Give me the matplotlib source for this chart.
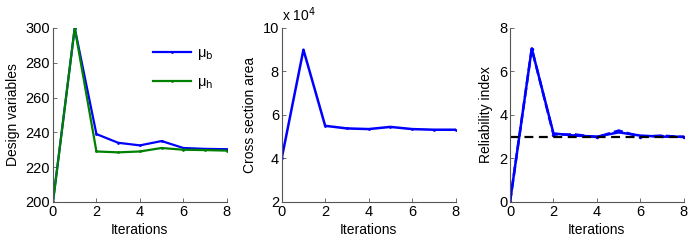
import numpy as np
import matplotlib
matplotlib.use("Agg")
import matplotlib.pyplot as plt

plt.rcParams['font.family'] = ['Liberation Sans', 'DejaVu Sans']

# data
iterations = [0, 1, 2, 3, 4, 5, 6, 7, 8]
mu_b = [200, 300, 239, 234, 232.5, 235, 231, 230.5, 230.3]
mu_h = [200, 300, 229, 228.5, 229, 231, 230, 229.8, 229.5]
area = [4.0, 9.0, 5.5, 5.38, 5.35, 5.45, 5.35, 5.32, 5.32]  # x 10^4
beta_1 = [0, 7.05, 3.15, 3.05, 3.0, 3.2, 3.05, 3.0, 3.0]
beta_2 = [0, 7.05, 3.1, 3.1, 2.98, 3.28, 3.0, 3.05, 2.98]
beta_target = 3

blue = (0, 0, 1)
green = (0, 0.5, 0)

fig = plt.figure(figsize=(6.98, 2.43), dpi=100)
w, h = 0.249, 0.716
bottom = 0.169
ax1 = fig.add_axes([0.0759, bottom, w, h])
ax2 = fig.add_axes([0.4036, bottom, w, h])
ax3 = fig.add_axes([0.7307, bottom, w, h])

for ax in (ax1, ax2, ax3):
    ax.spines['top'].set_visible(False)
    ax.spines['right'].set_visible(False)
    for s in ('left', 'bottom'):
        ax.spines[s].set_color('#555555')
        ax.spines[s].set_linewidth(0.8)
    ax.tick_params(direction='in', length=3, width=0.6, color='#555555',
                   labelsize=10.5, pad=2)
    ax.set_xlim(0, 8)
    ax.set_xticks([0, 2, 4, 6, 8])
    ax.set_xlabel("Iterations", fontsize=10, labelpad=3)

# panel 1
ax1.plot(iterations, mu_b, color=blue, lw=1.6, marker='.', ms=2,
         label='μ$_\\mathrm{b}$')
ax1.plot(iterations, mu_h, color=green, lw=1.6, marker='.', ms=2,
         label='μ$_\\mathrm{h}$')
ax1.set_ylim(200, 300)
ax1.set_yticks([200, 220, 240, 260, 280, 300])
ax1.set_ylabel("Design variables", fontsize=10, labelpad=4)
ax1.legend(loc='upper right', bbox_to_anchor=(1.0, 0.97), frameon=False,
           fontsize=10.5, handlelength=2.6, labelspacing=0.85, handletextpad=0.4)

# panel 2
ax2.plot(iterations, area, color=blue, lw=1.8, marker='.', ms=2)
ax2.set_ylim(2, 10)
ax2.set_yticks([2, 4, 6, 8, 10])
ax2.set_ylabel("Cross section area", fontsize=10, labelpad=4)
ax2.text(0.0, 1.02, r'x 10$^4$', transform=ax2.transAxes, fontsize=10,
         ha='left', va='bottom')

# panel 3
ax3.plot(iterations, beta_1, color=blue, lw=1.8)
ax3.plot(iterations, beta_2, color=blue, lw=1.8, ls='--', marker='.', ms=3)
ax3.plot([0, 8], [beta_target, beta_target], color='black', lw=1.6, ls='--',
         dashes=(4, 2.5))
ax3.set_ylim(0, 8)
ax3.set_yticks([0, 2, 4, 6, 8])
ax3.set_ylabel("Reliability index", fontsize=10, labelpad=4)

fig.savefig("out.png", dpi=100)
